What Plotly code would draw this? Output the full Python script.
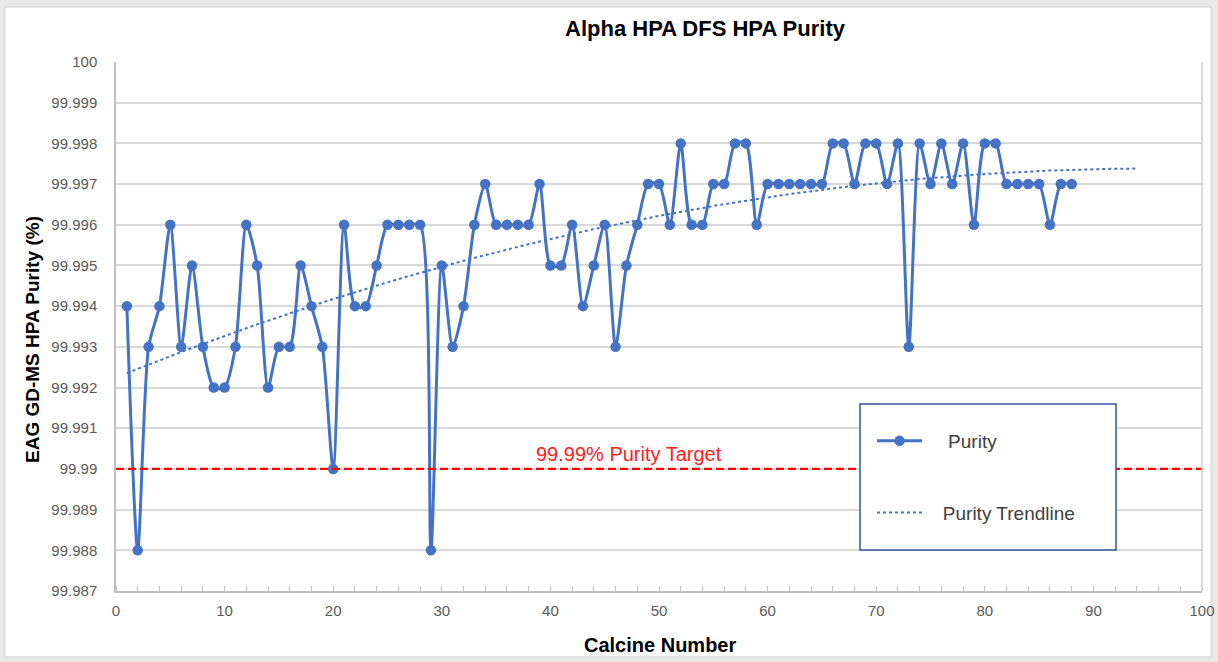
import numpy as np
import plotly.graph_objects as go

# ---------------- data ----------------
calcine = list(range(1, 89))
purity = [
    99.994, 99.988, 99.993, 99.994, 99.996, 99.993, 99.995, 99.993, 99.992, 99.992,
    99.993, 99.996, 99.995, 99.992, 99.993, 99.993, 99.995, 99.994, 99.993, 99.990,
    99.996, 99.994, 99.994, 99.995, 99.996, 99.996, 99.996, 99.996, 99.988, 99.995,
    99.993, 99.994, 99.996, 99.997, 99.996, 99.996, 99.996, 99.996, 99.997, 99.995,
    99.995, 99.996, 99.994, 99.995, 99.996, 99.993, 99.995, 99.996, 99.997, 99.997,
    99.996, 99.998, 99.996, 99.996, 99.997, 99.997, 99.998, 99.998, 99.996, 99.997,
    99.997, 99.997, 99.997, 99.997, 99.997, 99.998, 99.998, 99.997, 99.998, 99.998,
    99.997, 99.998, 99.993, 99.998, 99.997, 99.998, 99.997, 99.998, 99.996, 99.998,
    99.998, 99.997, 99.997, 99.997, 99.997, 99.996, 99.997, 99.997,
]
y_tickvals = [99.987, 99.988, 99.989, 99.990, 99.991, 99.992, 99.993,
              99.994, 99.995, 99.996, 99.997, 99.998, 99.999, 100.0]
y_ticktext = ["99.987", "99.988", "99.989", "99.99", "99.991", "99.992", "99.993",
              "99.994", "99.995", "99.996", "99.997", "99.998", "99.999", "100"]
x_tickvals = [0, 10, 20, 30, 40, 50, 60, 70, 80, 90, 100]
target_value = 99.99
target_label = "99.99% Purity Target"
trend_forward = 6  # trendline forecast periods beyond last calcine

# ---------------- trendline (2nd order polynomial fit) ----------------
xa = np.array(calcine, dtype=float)
ya = np.array(purity, dtype=float)
ymean = ya.mean()
coef = np.polyfit(xa, ya - ymean, 2)
trend_x = np.linspace(xa.min(), xa.max() + trend_forward, 300)
trend_y = np.polyval(coef, trend_x) + ymean

# ---------------- styling ----------------
FONT = "Liberation Sans, Arial, sans-serif"
BLUE = "#4472C4"
W, H = 1218, 662
L, R, T, B = 116, 16, 62, 71
pw, ph = W - L - R, H - T - B
NB = "\u00a0"


def px_x(p):
    return (p - L) / pw


def px_y(p):
    return 1 - (p - T) / ph


fig = go.Figure()

fig.add_trace(go.Scatter(
    x=calcine, y=purity, name=NB * 4 + "Purity", mode="lines+markers",
    line=dict(color=BLUE, width=3, shape="spline", smoothing=0.7),
    marker=dict(color=BLUE, size=10.5),
    legendgroup="a",
))
fig.add_trace(go.Scatter(
    x=trend_x, y=trend_y, name=NB * 3 + "Purity Trendline", mode="lines",
    line=dict(color=BLUE, width=2, dash="dot"),
    legendgroup="b",
))

# card background
fig.add_shape(type="rect", xref="paper", yref="paper",
              x0=px_x(5), x1=px_x(1211), y0=px_y(657), y1=px_y(7),
              fillcolor="white", line=dict(color="#D0D0D0", width=1), layer="below")
# target line
fig.add_shape(type="line", xref="paper", yref="y", x0=0, x1=1,
              y0=target_value, y1=target_value,
              line=dict(color="#FF0000", width=2.2, dash="8px,4px"))
# legend box
fig.add_shape(type="rect", xref="paper", yref="paper",
              x0=px_x(860), x1=px_x(1116), y0=px_y(550), y1=px_y(404),
              fillcolor="white", line=dict(color="#2F5597", width=1.5), layer="above")

fig.add_annotation(x=47.2, y=target_value, xref="x", yref="y", text=target_label,
                   showarrow=False, yanchor="bottom", yshift=2,
                   font=dict(family=FONT, size=20, color="#FF2020"))
fig.add_annotation(x=px_x(32), y=px_y(340), xref="paper", yref="paper",
                   xanchor="center", yanchor="middle",
                   text="<b>EAG GD-MS HPA Purity (%)</b>", textangle=-90,
                   showarrow=False, font=dict(family=FONT, size=19, color="#000000"))
fig.add_annotation(x=px_x(660), y=px_y(645), xref="paper", yref="paper",
                   xanchor="center", yanchor="middle",
                   text="<b>Calcine Number</b>",
                   showarrow=False, font=dict(family=FONT, size=20, color="#000000"))

fig.update_layout(
    width=W, height=H, autosize=False,
    margin=dict(l=L, r=R, t=T, b=B, pad=0, autoexpand=False),
    paper_bgcolor="#E9E9E9", plot_bgcolor="white",
    title=dict(text="<b>Alpha HPA DFS HPA Purity</b>", x=px_x(705), xanchor="center",
               xref="paper", y=1 - 28 / H, yref="container", yanchor="middle",
               font=dict(family=FONT, size=22, color="#000000")),
    showlegend=True,
    legend=dict(x=px_x(872), y=px_y(422), xanchor="left", yanchor="top",
                bgcolor="rgba(0,0,0,0)", borderwidth=0,
                font=dict(family=FONT, size=19, color="#404040"),
                tracegroupgap=44, itemwidth=45),
    font=dict(family=FONT),
)

fig.update_xaxes(
    range=[0, 100], tickvals=x_tickvals, showgrid=False, zeroline=False,
    showline=True, linecolor="#BFBFBF", linewidth=1.5, automargin=False,
    ticks="", tickfont=dict(family=FONT, size=15, color="#595959"),
    ticklabelstandoff=5,
    minor=dict(dtick=2, ticks="inside", ticklen=5, tickcolor="#BFBFBF", showgrid=False),
)
fig.update_yaxes(
    range=[99.987, 100.0], tickvals=y_tickvals, ticktext=y_ticktext,
    showgrid=True, gridcolor="#D9D9D9", gridwidth=1.5, zeroline=False,
    showline=True, linecolor="#BFBFBF", linewidth=1.5, ticks="", automargin=False,
    tickfont=dict(family=FONT, size=15, color="#595959"),
    ticklabelstandoff=14,
)
# right border of plot area
fig.add_shape(type="line", xref="paper", yref="paper", x0=1, x1=1, y0=0, y1=1,
              line=dict(color="#D0D0D0", width=1.5))

fig.write_html(
    "out.html",
    config={"displayModeBar": False},
    post_script="document.body.style.margin='0';document.body.style.overflow='hidden';",
)
